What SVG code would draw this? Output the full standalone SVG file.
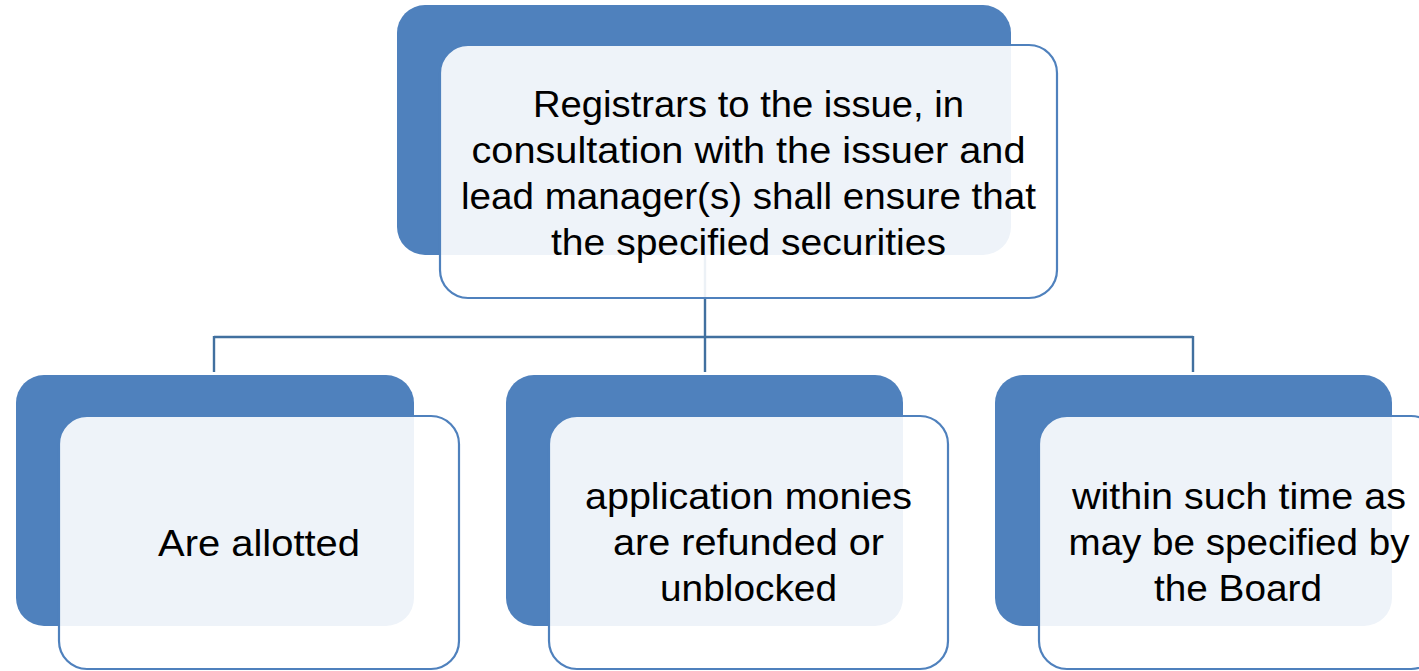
<svg xmlns="http://www.w3.org/2000/svg" width="1419" height="671" viewBox="0 0 1419 671">
<style>
.dark{fill:#4F81BD;}
.light{fill:#FFFFFF;fill-opacity:0.9;stroke:#4F81BD;stroke-width:2.2;}
.conn{fill:none;stroke:#41709F;stroke-width:2.4;}
.t{font-family:"Liberation Sans",Arial,sans-serif;font-size:37px;fill:#000;text-anchor:middle;}
</style>
<rect width="1419" height="671" fill="#FFFFFF"/>
<g id="connectors">
<path class="conn" d="M705,255 V337 M214,337 H1193 M214,336 V372 M705,337 V372 M1193,336 V372"/>
</g>
<g id="node-top">
<rect class="dark" x="397" y="5" width="614" height="250" rx="28"/>
<rect class="light" x="440" y="45" width="617" height="253" rx="28"/>
<text class="t" x="748.5" y="117" textLength="431" lengthAdjust="spacingAndGlyphs">Registrars to the issue, in</text>
<text class="t" x="748.5" y="163" textLength="554" lengthAdjust="spacingAndGlyphs">consultation with the issuer and</text>
<text class="t" x="748.5" y="209" textLength="575" lengthAdjust="spacingAndGlyphs">lead manager(s) shall ensure that</text>
<text class="t" x="748.5" y="255" textLength="395" lengthAdjust="spacingAndGlyphs">the specified securities</text>
</g>
<g id="node-allotted">
<rect class="dark" x="16" y="375" width="398" height="251" rx="28"/>
<rect class="light" x="59" y="416" width="400" height="253" rx="28"/>
<text class="t" x="259" y="556" textLength="202" lengthAdjust="spacingAndGlyphs">Are allotted</text>
</g>
<g id="node-refunded">
<rect class="dark" x="506" y="375" width="397" height="251" rx="28"/>
<rect class="light" x="549" y="416" width="399" height="253" rx="28"/>
<text class="t" x="748.5" y="509" textLength="327" lengthAdjust="spacingAndGlyphs">application monies</text>
<text class="t" x="748.5" y="555" textLength="271" lengthAdjust="spacingAndGlyphs">are refunded or</text>
<text class="t" x="748.5" y="601" textLength="177" lengthAdjust="spacingAndGlyphs">unblocked</text>
</g>
<g id="node-time">
<rect class="dark" x="995" y="375" width="397" height="251" rx="28"/>
<rect class="light" x="1039" y="416" width="400" height="253" rx="28"/>
<text class="t" x="1239" y="509" textLength="334" lengthAdjust="spacingAndGlyphs">within such time as</text>
<text class="t" x="1239" y="555" textLength="341" lengthAdjust="spacingAndGlyphs">may be specified by</text>
<text class="t" x="1238" y="601" textLength="168" lengthAdjust="spacingAndGlyphs">the Board</text>
</g>
</svg>
